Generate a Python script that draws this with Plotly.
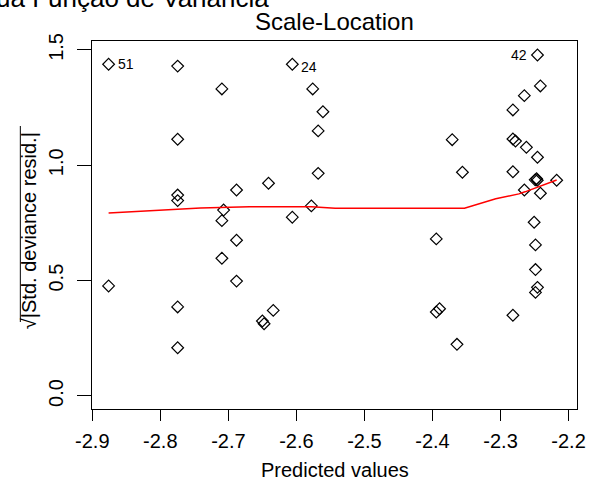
import plotly.graph_objects as go

# ---- data ----
predicted = [
    -2.876, -2.7745, -2.7095, -2.606, -2.576, -2.561, -2.568, -2.7745, -2.568,
    -2.641, -2.688, -2.7745, -2.7745, -2.707, -2.578, -2.7095, -2.606,
    -2.876, -2.7745, -2.7745, -2.7095, -2.688, -2.688, -2.634, -2.650, -2.6475,
    -2.2457, -2.2414, -2.265, -2.2818, -2.371, -2.2818, -2.278, -2.262, -2.2457,
    -2.356, -2.2818, -2.249, -2.247, -2.246, -2.2175, -2.265, -2.2414, -2.2506,
    -2.2486, -2.3944, -2.2486, -2.2457, -2.2486, -2.3896, -2.3944, -2.2818, -2.364,
]
sqrt_std_resid = [
    1.438, 1.430, 1.331, 1.438, 1.331, 1.232, 1.149, 1.113, 0.965,
    0.922, 0.893, 0.871, 0.847, 0.806, 0.824, 0.760, 0.775,
    0.477, 0.386, 0.209, 0.597, 0.675, 0.498, 0.371, 0.325, 0.313,
    1.478, 1.344, 1.302, 1.240, 1.111, 1.114, 1.105, 1.078, 1.035,
    0.970, 0.972, 0.937, 0.942, 0.935, 0.935, 0.893, 0.879, 0.753,
    0.655, 0.681, 0.548, 0.471, 0.449, 0.378, 0.364, 0.350, 0.224,
]
smooth_x = [-2.876, -2.850, -2.797, -2.741, -2.669, -2.578, -2.543, -2.353,
            -2.307, -2.273, -2.264, -2.2175]
smooth_y = [0.793, 0.797, 0.806, 0.815, 0.820, 0.820, 0.814, 0.814,
            0.855, 0.876, 0.885, 0.936]
id_labels = ["51", "24", "42"]
id_x = [-2.876, -2.606, -2.2457]
id_y = [1.438, 1.438, 1.478]
x_ticks = [-2.9, -2.8, -2.7, -2.6, -2.5, -2.4, -2.3, -2.2]
x_ticktext = ["-2.9", "-2.8", "-2.7", "-2.6", "-2.5", "-2.4", "-2.3", "-2.2"]
y_ticks = [0.0, 0.5, 1.0, 1.5]
y_ticktext = ["0.0", "0.5", "1.0", "1.5"]

FONT = "Liberation Sans, Arial, sans-serif"
W, H = 597, 488
L, R, T, B = 92, 11, 41, 79
PW, PH = W - L - R, H - T - B


def px2paper(px, py):
    return (px - L) / PW, (H - B - py) / PH


fig = go.Figure()
fig.add_trace(go.Scatter(
    x=predicted, y=sqrt_std_resid, mode="markers",
    marker=dict(symbol="diamond-open", size=9, color="black",
                line=dict(color="black", width=1.2)),
    showlegend=False, hoverinfo="skip"))
fig.add_trace(go.Scatter(
    x=smooth_x, y=smooth_y, mode="lines",
    line=dict(color="red", width=1.5), showlegend=False, hoverinfo="skip"))

annotations = []
shifts = [(7, 0, "left"), (7, -3, "left"), (-8, 0, "right")]
for lab, xx, yy, (xs, ys, anc) in zip(id_labels, id_x, id_y, shifts):
    annotations.append(dict(x=xx, y=yy, xref="x", yref="y", text=lab,
                            showarrow=False, xanchor=anc, yanchor="middle",
                            xshift=xs, yshift=ys,
                            font=dict(family=FONT, size=14, color="black")))

# title (caption)
tx, ty = px2paper(339, 21.5)
annotations.append(dict(x=tx, y=ty, xref="paper", yref="paper",
                        text="Scale-Location", showarrow=False,
                        xanchor="center", yanchor="middle",
                        font=dict(family=FONT, size=24, color="black")))
# clipped main title at top (cut off in the reference too)
mx, my = px2paper(-8, -2.3)
annotations.append(dict(x=mx, y=my, xref="paper", yref="paper",
                        text="ua Função de Variância", showarrow=False,
                        xanchor="left", yanchor="middle",
                        font=dict(family=FONT, size=26, color="black")))
# x axis title
xx_, xy_ = px2paper(339, 470)
annotations.append(dict(x=xx_, y=xy_, xref="paper", yref="paper",
                        text="Predicted values", showarrow=False,
                        xanchor="center", yanchor="middle",
                        font=dict(family=FONT, size=20, color="black")))
# y axis title
yx_, yy_ = px2paper(28, 231)
annotations.append(dict(x=yx_, y=yy_, xref="paper", yref="paper",
                        text="√|Std. deviance resid.|", showarrow=False,
                        textangle=-90, xanchor="center", yanchor="middle",
                        font=dict(family=FONT, size=20, color="black")))

ox0, oy0 = px2paper(19, 126)
ox1, oy1 = px2paper(19, 322)
shapes = [dict(type="line", xref="paper", yref="paper",
               x0=ox0, y0=oy0, x1=ox1, y1=oy1,
               line=dict(color="black", width=1))]

fig.update_layout(
    width=W, height=H,
    margin=dict(l=L, r=R, t=T, b=B, pad=0),
    paper_bgcolor="white", plot_bgcolor="white",
    font=dict(family=FONT, size=20, color="black"),
    annotations=annotations, shapes=shapes,
    xaxis=dict(range=[-2.9004, -2.1876], tickvals=x_ticks, ticktext=x_ticktext,
               showgrid=False, zeroline=False, showline=True, mirror=True,
               linecolor="black", linewidth=1, ticks="outside", ticklen=11,
               tickcolor="black", tickwidth=1, ticklabelstandoff=3,
               tickfont=dict(family=FONT, size=20, color="black")),
    yaxis=dict(range=[-0.0564, 1.5388], tickvals=y_ticks, ticktext=y_ticktext,
               showgrid=False, zeroline=False, showline=True, mirror=True,
               linecolor="black", linewidth=1, ticks="outside", ticklen=14,
               tickcolor="black", tickwidth=1, tickangle=-90,
               ticklabelstandoff=6,
               tickfont=dict(family=FONT, size=20, color="black")),
)
fig.write_html(
    "out.html",
    config={"displayModeBar": False},
    post_script="document.body.style.margin='0px';"
                "document.body.style.padding='0px';"
                "document.documentElement.style.overflow='hidden';")
